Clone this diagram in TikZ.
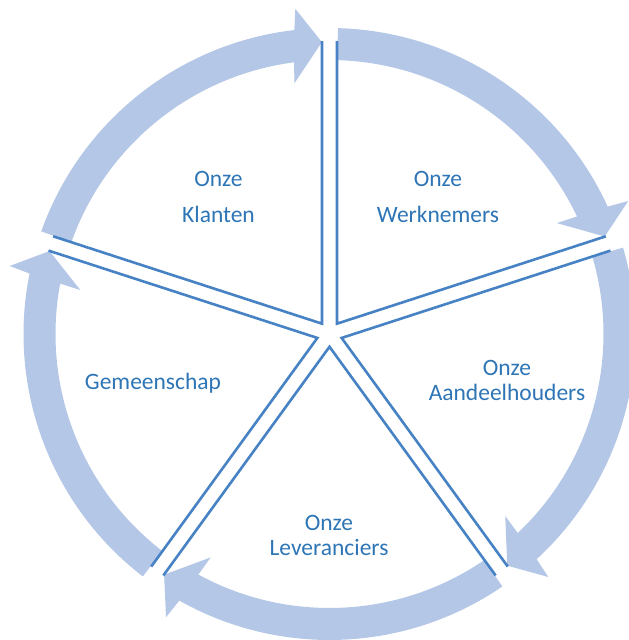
\documentclass[tikz,border=0pt]{standalone}
\usepackage{fontspec}
\setmainfont{Carlito}
\definecolor{ringblue}{RGB}{180,199,231}
\definecolor{spokeblue}{RGB}{70,130,196}
\definecolor{textblue}{RGB}{46,117,182}
\tikzset{
    ringarrow/.style={fill=ringblue},
    spoke/.style={draw=spokeblue, line width=2.6pt, line join=miter},
    segtext/.style={text=textblue, align=center, font=\fontsize{23.5}{25}\selectfont},
    widetext/.style={segtext, font=\fontsize{23.5}{36}\selectfont}
}

\begin{document}
\begin{tikzpicture}[x=1pt, y=1pt]
    \useasboundingbox(-329.5, -306) rectangle (299.5, 334);
    \clip(-329.5, -306) rectangle (299.5, 334);
    \foreach \t in {162, 90, 18, -54, -126}{
        \fill[ringarrow]({\t-1.6}:306) arc[start angle=\t-1.6, end angle=\t-65.4, radius=306]
            --({\t-66}:327)--({\t-70.5}:292)--({\t-64}:253)--({\t-64.6}:274)
            arc[start angle=\t-64.6, end angle=\t-1.6, radius=274]--cycle;
    }
    \foreach \t in {162, 90, 18, -54, -126}
        \draw[spoke]({\t-1.47}:293.1)--({\t-36}:12.76)--({\t-70.53}:293.1);
    \node[widetext](klanten) at(-111, 137){Onze\\Klanten};
    \node[widetext](werknemers) at(108.5, 137){Onze\\Werknemers};
    \node[segtext](aandeel) at(177.5, -46){Onze\\Aandeelhouders};
    \node[segtext](leveranciers) at(-0.5, -201){Onze\\Leveranciers};
    \node[segtext](gemeenschap) at(-176.5, -49){Gemeenschap};
\end{tikzpicture}
\end{document}
